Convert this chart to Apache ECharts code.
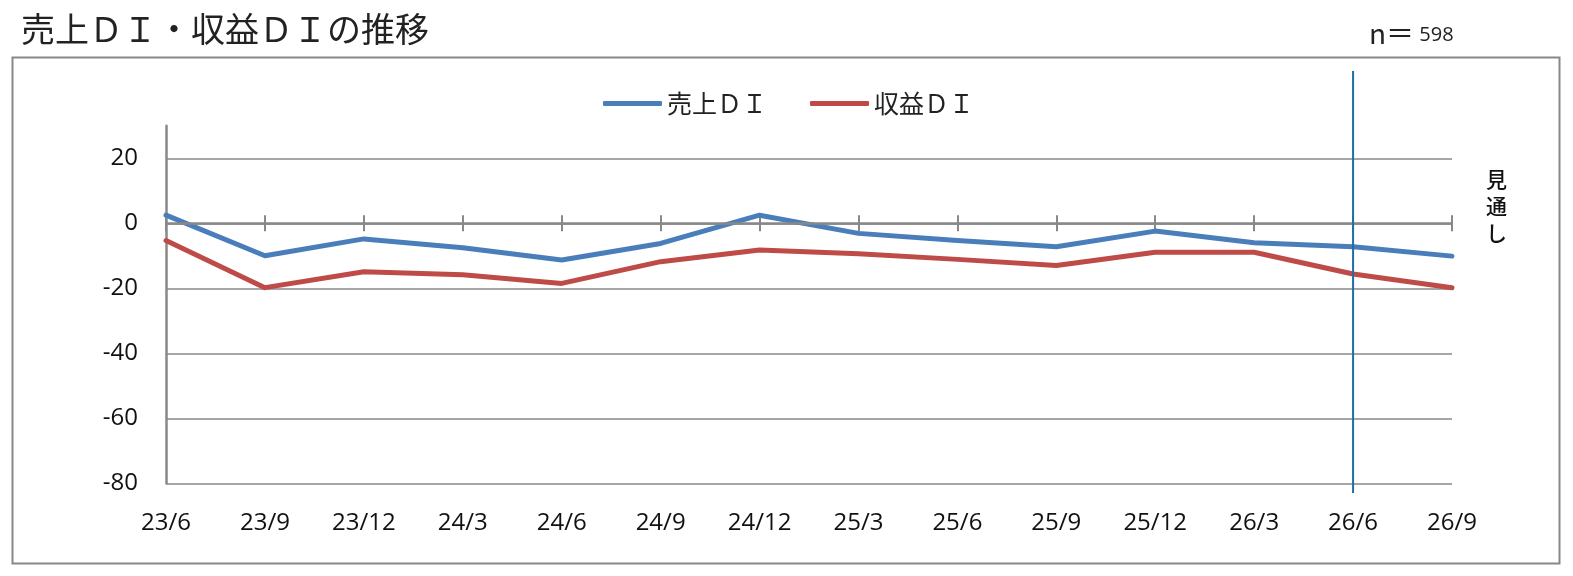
<!DOCTYPE html>
<html>
<head>
<meta charset="utf-8">
<script src="https://cdn.jsdelivr.net/npm/echarts@6/dist/echarts.min.js"></script>
<style>
  html, body { margin: 0; padding: 0; background: #fff; }
  #chart { width: 1573px; height: 576px; }
</style>
</head>
<body>
<div id="chart"></div>
<script>
// 四半期ラベル
const quarters = ['23/6', '23/9', '23/12', '24/3', '24/6', '24/9', '24/12', '25/3', '25/6', '25/9', '25/12', '26/3', '26/6', '26/9']
// 売上ＤＩ
const salesDI = [2.5, -10.0, -4.8, -7.5, -11.3, -6.2, 2.5, -3.1, -5.3, -7.2, -2.4, -6.0, -7.2, -10.1]
// 収益ＤＩ
const profitDI = [-5.3, -19.8, -14.9, -15.8, -18.5, -11.8, -8.2, -9.4, -11.1, -13.0, -8.9, -8.9, -15.6, -19.8]
// 見通しの境目
const forecastStart = '26/6'
const sampleSize = 598

const gray = '#888888'
const font = '"Open Sans", "Noto Sans CJK JP", sans-serif'
const jpFont = '"Noto Sans CJK JP", sans-serif'
const tickHalf = 8

const chart = echarts.init(document.getElementById('chart'))

const option = {
  animation: false,
  title: [
    {
      text: '売上ＤＩ・収益ＤＩの推移',
      left: 16,
      top: 7,
      textStyle: { fontFamily: jpFont, fontSize: 34, fontWeight: 'normal', color: '#222' }
    },
    {
      text: '{a|n＝}{b| ' + sampleSize + '}',
      left: 1364,
      top: 14,
      textStyle: {
        fontWeight: 'normal',
        rich: {
          a: { fontFamily: jpFont, fontSize: 28, fontWeight: 'normal', color: '#222' },
          b: { fontFamily: font, fontSize: 20, fontWeight: 'normal', color: '#222', padding: [4, 0, 0, 0] }
        }
      }
    }
  ],
  legend: {
    left: 598,
    top: 86,
    icon: 'roundRect',
    itemWidth: 59,
    itemHeight: 5,
    itemGap: 43,
    textStyle: { fontFamily: jpFont, fontSize: 25, color: '#222' },
    data: ['売上ＤＩ', '収益ＤＩ']
  },
  grid: { left: 166, right: 121, top: 125.8, bottom: 92.7, containLabel: false },
  xAxis: [
    {
      // 下端のラベル
      type: 'category',
      data: quarters,
      boundaryGap: false,
      position: 'bottom',
      axisLine: { show: false, onZero: false },
      axisTick: { show: false },
      axisLabel: { interval: 0, margin: 28, fontFamily: font, fontSize: 24, color: '#111' }
    },
    {
      // ゼロ位置の十字目盛
      type: 'category',
      data: quarters,
      boundaryGap: false,
      position: 'top',
      offset: 0,
      axisLine: { show: false, onZero: false },
      axisTick: { show: true, interval: 0, length: tickHalf * 2, lineStyle: { color: gray, width: 2 } },
      axisLabel: { show: false }
    }
  ],
  yAxis: {
    type: 'value',
    min: -80,
    max: 30,
    interval: 20,
    axisLine: { show: true, lineStyle: { color: gray, width: 2.5 } },
    axisTick: { show: false },
    axisLabel: { showMaxLabel: false, margin: 28, fontFamily: font, fontSize: 24, color: '#111' },
    splitLine: { show: true, showMaxLine: false, lineStyle: { color: gray, width: 1.7 } }
  },
  series: [
    {
      // ゼロ線
      name: 'zero',
      type: 'line',
      data: [],
      z: 1,
      silent: true,
      markLine: {
        silent: true,
        symbol: 'none',
        label: { show: false },
        lineStyle: { color: gray, width: 2.7, type: 'solid' },
        data: [{ yAxis: 0 }]
      }
    },
    {
      name: '売上ＤＩ',
      type: 'line',
      data: salesDI,
      symbol: 'none',
      itemStyle: { color: '#4A7EBB' },
      lineStyle: { color: '#4A7EBB', width: 5, cap: 'round', join: 'round' },
      z: 3
    },
    {
      name: '収益ＤＩ',
      type: 'line',
      data: profitDI,
      symbol: 'none',
      itemStyle: { color: '#BE4B48' },
      lineStyle: { color: '#BE4B48', width: 5, cap: 'round', join: 'round' },
      z: 3
    }
  ]
}

chart.setOption(option)

// 目盛をゼロ線の上下に振り分ける
const zeroY = chart.convertToPixel({ yAxisIndex: 0 }, 0)
const topY = chart.convertToPixel({ yAxisIndex: 0 }, 30)
const fx = chart.convertToPixel({ xAxisIndex: 0 }, forecastStart)

chart.setOption({
  xAxis: [{}, { offset: -(zeroY - topY + tickHalf) }],
  graphic: [
    {
      type: 'rect',
      shape: { x: 12.5, y: 57.5, width: 1547, height: 506 },
      style: { fill: 'none', stroke: gray, lineWidth: 2 },
      silent: true
    },
    {
      type: 'line',
      shape: { x1: fx, y1: 71, x2: fx, y2: 493 },
      style: { stroke: '#1F6EA6', lineWidth: 2 },
      z: 10
    },
    {
      type: 'text',
      left: 1486,
      top: 166,
      style: {
        text: '見\n通\nし',
        fontFamily: jpFont,
        fontSize: 21,
        fontWeight: 500,
        lineHeight: 27,
        fill: '#111'
      }
    }
  ]
})
</script>
</body>
</html>
